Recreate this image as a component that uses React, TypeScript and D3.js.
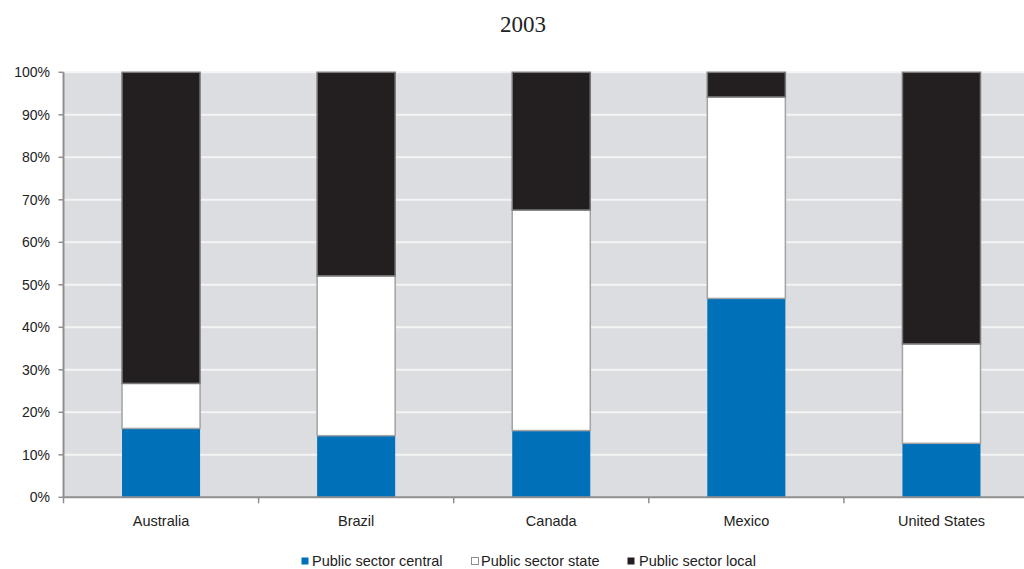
import React from "react";
import * as d3 from "d3";

// Share of public sector employment by level of government, 2003 (%)
const countries = ["Australia", "Brazil", "Canada", "Mexico", "United States"];
const centralShare = [16.2, 14.5, 15.7, 46.8, 12.7];
const stateShare = [10.6, 37.6, 51.9, 47.4, 23.4];
const localShare = [73.2, 47.9, 32.4, 5.8, 63.9];
const seriesNames = ["Public sector central", "Public sector state", "Public sector local"];
const yTicks = [0, 10, 20, 30, 40, 50, 60, 70, 80, 90, 100];
const title = "2003";

const W = 1024;
const H = 569;
const plot = { left: 63.5, top: 72.3, bottom: 497.3, right: 1039 };

const fills = ["#0070b8", "#ffffff", "#231f20"];
const strokes = ["none", "#a3a3a3", "#7a7a7a"];

export default function App() {
  const x = d3
    .scaleBand<string>()
    .domain(countries)
    .range([plot.left, plot.right])
    .paddingInner(0.6)
    .paddingOuter(0.3);
  const y = d3.scaleLinear().domain([0, 100]).range([plot.bottom, plot.top]);

  const rows = countries.map((c, i) => ({
    country: c,
    central: centralShare[i],
    state: stateShare[i],
    local: localShare[i],
  }));
  const stack = d3.stack<any>().keys(["central", "state", "local"]);
  const layers = stack(rows);

  const step = x.step();
  const boundaries = countries.map((c) => (x(c) as number) - (step - x.bandwidth()) / 2);
  boundaries.push(boundaries[boundaries.length - 1] + step);

  const legendItems = [
    { x: 301, tx: 312 },
    { x: 471, tx: 481 },
    { x: 627, tx: 639 },
  ];

  const font = "Liberation Sans, Arial, sans-serif";

  return (
    <div style={{ position: "absolute", left: 0, top: 0 }}>
      <svg width={W} height={H} style={{ display: "block", background: "#fff" }}>
        <text
          x={523}
          y={32}
          textAnchor="middle"
          fontFamily="Liberation Serif, Times New Roman, serif"
          fontSize={23}
          fill="#222"
        >
          {title}
        </text>

        <rect
          x={plot.left}
          y={plot.top}
          width={plot.right - plot.left}
          height={plot.bottom - plot.top}
          fill="#dcdde0"
        />

        {yTicks.slice(1).map((t) => (
          <line
            key={"g" + t}
            x1={plot.left}
            x2={plot.right}
            y1={y(t)}
            y2={y(t)}
            stroke="#f4f4f5"
            strokeWidth={2}
          />
        ))}

        {layers.map((layer, li) =>
          layer.map((d, i) => (
            <rect
              key={li + "-" + i}
              x={x(countries[i])}
              y={y(d[1])}
              width={x.bandwidth()}
              height={y(d[0]) - y(d[1])}
              fill={fills[li]}
              stroke={strokes[li]}
              strokeWidth={strokes[li] === "none" ? 0 : 1.5}
            />
          ))
        )}

        {/* axes */}
        <line x1={plot.left} x2={plot.left} y1={plot.top} y2={plot.bottom} stroke="#8f8f8f" strokeWidth={2} />
        <line x1={plot.left} x2={plot.right} y1={plot.bottom} y2={plot.bottom} stroke="#8f8f8f" strokeWidth={2} />
        {yTicks.map((t) => (
          <g key={"y" + t}>
            <line x1={plot.left - 5} x2={plot.left} y1={y(t)} y2={y(t)} stroke="#8f8f8f" strokeWidth={1.5} />
            <text
              x={50}
              y={y(t)}
              dy="0.35em"
              textAnchor="end"
              fontFamily={font}
              fontSize={14}
              fill="#222"
            >
              {t + "%"}
            </text>
          </g>
        ))}
        {boundaries.map((b, i) => (
          <line key={"xt" + i} x1={b} x2={b} y1={plot.bottom} y2={plot.bottom + 6} stroke="#8f8f8f" strokeWidth={1.5} />
        ))}
        {countries.map((c) => (
          <text
            key={"xl" + c}
            x={(x(c) as number) + x.bandwidth() / 2}
            y={526}
            textAnchor="middle"
            fontFamily={font}
            fontSize={14.5}
            fill="#222"
          >
            {c}
          </text>
        ))}

        {/* legend */}
        {seriesNames.map((s, i) => (
          <g key={"lg" + i}>
            <rect
              x={legendItems[i].x + 0.5}
              y={557.5}
              width={7}
              height={7}
              fill={fills[i]}
              stroke={i === 1 ? "#8f8f8f" : "none"}
              strokeWidth={1}
            />
            <text x={legendItems[i].tx} y={566} fontFamily={font} fontSize={14.5} fill="#222">
              {s}
            </text>
          </g>
        ))}
      </svg>
    </div>
  );
}
